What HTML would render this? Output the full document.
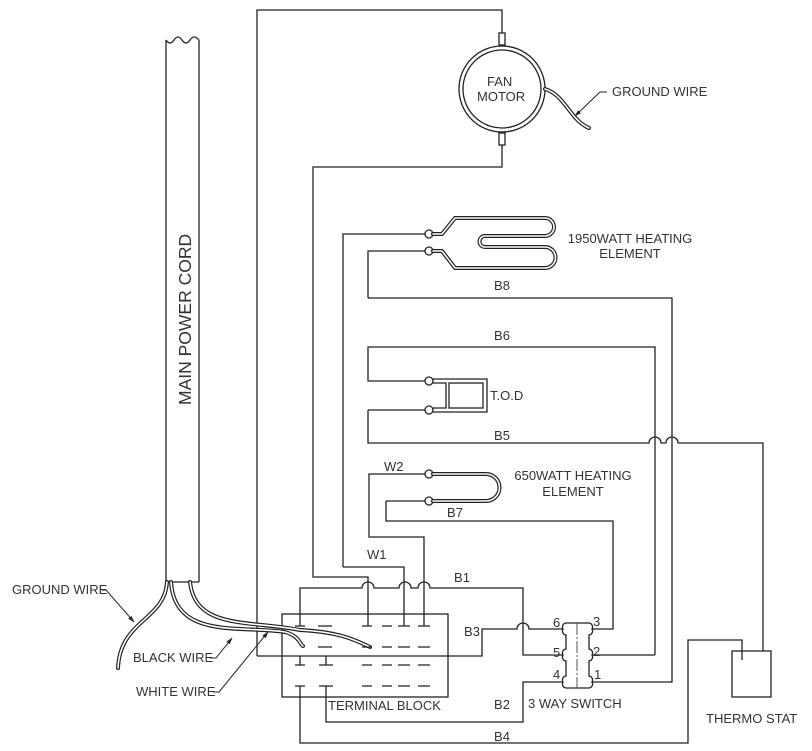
<!DOCTYPE html>
<html><head><meta charset="utf-8"><style>
html,body{margin:0;padding:0;background:#fff;}
svg{display:block;}
text{font-family:"Liberation Sans",sans-serif;font-size:13px;fill:#333;}
</style></head><body>
<svg width="812" height="751" viewBox="0 0 812 751" xmlns="http://www.w3.org/2000/svg">
<defs><marker id="ar" viewBox="0 0 10 10" refX="9" refY="5" markerWidth="7" markerHeight="7" orient="auto"><path d="M0 2 L10 5 L0 8 Z" fill="#222"/></marker></defs>
<rect width="812" height="751" fill="#fff"/>
<g fill="none" stroke="#222" stroke-width="1.3">
<path d="M166 40 V582 M199 40 V582 M166 582 H199"/>
<path d="M166 40 q4 6 8 0 q4 -6 8 0 q4 6 8 0 q4 -6 9 0"/>
<path d="M257 656 V10 H502 V33"/>
<rect x="499" y="33" width="6" height="12"/>
<rect x="499" y="133" width="6" height="12"/>
<circle cx="502" cy="89" r="43"/>
<circle cx="502" cy="89" r="39"/>
<path d="M502 145 V167 H313 V577 H368 V626"/>
<path d="M343 567 V234 H425 M368 298 V251 H425"/>
<circle cx="429" cy="234" r="4"/><circle cx="429" cy="251" r="4"/>
<path d="M368 298 H672 V682 H592"/>
<path d="M655 655 V347 H368 V381 H425 M368 410 H425 V410 M368 410 V443 H649 a6 6 0 0 1 12 0 H666 a6 6 0 0 1 12 0 H763 V651"/>
<circle cx="429" cy="381" r="4"/><circle cx="429" cy="410" r="4"/>
<path d="M433 379 H487 V412 H433 M433 383 H446 V408 H433"/>
<rect x="449" y="383" width="34" height="25"/>
<path d="M404 626 V567 H343"/>
<path d="M424 626 V537 H369 V474 H425"/>
<path d="M386 501 H425 M386 501 V521 H613 V629 H592"/>
<circle cx="429" cy="474" r="4"/><circle cx="429" cy="501" r="4"/>
<path d="M300 626 V588 H362 a6 6 0 0 1 12 0 H399 a6 6 0 0 1 12 0 H418 a6 6 0 0 1 12 0 H523 V655 H563"/>
<path d="M257 656 H482 V629 H517 a6 6 0 0 1 12 0 H563"/>
<path d="M592 655 H655"/>
<path d="M563 682 H523 V722 H326 V686"/>
<path d="M300 686 V743 H688 V640 H742 V660"/>
<rect x="732" y="651" width="39" height="46"/>
<rect x="282" y="614" width="166" height="83"/>
<path d="M300 656 V665 M326 656 V665"/>
</g>
<g fill="none" stroke-linecap="round">
<path d="M433 234 H442 L455 218 H545 A9 9 0 0 1 545 236 H485 A5.5 5.5 0 0 0 485 247 H545 A10.5 10.5 0 0 1 545 268 H455 L442 251 H433" stroke="#222" stroke-width="4"/>
<path d="M433 234 H442 L455 218 H545 A9 9 0 0 1 545 236 H485 A5.5 5.5 0 0 0 485 247 H545 A10.5 10.5 0 0 1 545 268 H455 L442 251 H433" stroke="#fff" stroke-width="1.6"/>
<path d="M433 474 H486 A13.5 13.5 0 0 1 486 501 H433" stroke="#222" stroke-width="4"/>
<path d="M433 474 H486 A13.5 13.5 0 0 1 486 501 H433" stroke="#fff" stroke-width="1.6"/>
<path d="M545 89 C565 95 570 120 589 128" stroke="#222" stroke-width="4"/>
<path d="M545 89 C565 95 570 120 589 128" stroke="#fff" stroke-width="1.6"/>
<path d="M167 582 C165 620 120 620 118 668" stroke="#222" stroke-width="4"/>
<path d="M167 582 C165 620 120 620 118 668" stroke="#fff" stroke-width="1.6"/>
<path d="M171 582 C175 640 240 625 285 632 C300 636 300 645 303 646" stroke="#222" stroke-width="4"/>
<path d="M171 582 C175 640 240 625 285 632 C300 636 300 645 303 646" stroke="#fff" stroke-width="1.6"/>
<path d="M190 582 C195 630 250 620 300 630 C340 632 355 640 370 647" stroke="#222" stroke-width="4"/>
<path d="M190 582 C195 630 250 620 300 630 C340 632 355 640 370 647" stroke="#fff" stroke-width="1.6"/>
</g>
<g stroke="#222" stroke-width="1.3">
<path d="M295 626 H305 M318 626 H332 M362 626 H372 M382 626 H392 M398 626 H410 M418 626 H430"/>
<path d="M318 647 H332 M362 647 H372 M382 647 H392 M398 647 H410 M418 647 H430"/>
<path d="M295 665 H305 M319 665 H333 M362 665 H372 M382 665 H392 M398 665 H410 M418 665 H430"/>
<path d="M295 686 H305 M319 686 H333 M362 686 H372 M382 686 H392 M398 686 H410 M418 686 H430"/>
</g>
<path d="M566 623 H589 a4 4 0 0 1 3 6 a4 4 0 0 1 -3 6 V649 a4 4 0 0 1 3 6 a4 4 0 0 1 -3 6 V676 a4 4 0 0 1 3 6 a4 4 0 0 1 -3 6 H566 a4 4 0 0 1 -3 -6 a4 4 0 0 1 3 -6 V661 a4 4 0 0 1 -3 -6 a4 4 0 0 1 3 -6 V635 a4 4 0 0 1 -3 -6 a4 4 0 0 1 3 -6 Z" fill="none" stroke="#222" stroke-width="1.3"/>
<path d="M577 623 V688" stroke="#555" stroke-width="1" stroke-dasharray="12 2 2 2"/>
<g stroke="#222" stroke-width="1" fill="none" marker-end="url(#ar)">
<path d="M607 92 H600 L575 116"/>
<path d="M102 590 H106 L134 622"/>
<path d="M210 658 H216 L232 638"/>
<path d="M213 692 H219 L268 632"/>
</g>
<text x="487" y="86">FAN</text>
<text x="477" y="101">MOTOR</text>
<text x="612" y="96">GROUND WIRE</text>
<text x="12" y="594">GROUND WIRE</text>
<text x="133" y="662">BLACK WIRE</text>
<text x="136" y="696">WHITE WIRE</text>
<text transform="translate(191,405) rotate(-90)" style="font-size:17.5px">MAIN POWER CORD</text>
<text x="630" y="243" text-anchor="middle">1950WATT HEATING</text>
<text x="630" y="258" text-anchor="middle">ELEMENT</text>
<text x="502" y="290" text-anchor="middle">B8</text>
<text x="502" y="340" text-anchor="middle">B6</text>
<text x="490" y="400">T.O.D</text>
<text x="502" y="440" text-anchor="middle">B5</text>
<text x="384" y="471">W2</text>
<text x="573" y="480" text-anchor="middle">650WATT HEATING</text>
<text x="573" y="496" text-anchor="middle">ELEMENT</text>
<text x="455" y="517" text-anchor="middle">B7</text>
<text x="367" y="559">W1</text>
<text x="462" y="582" text-anchor="middle">B1</text>
<text x="472" y="636" text-anchor="middle">B3</text>
<text x="502" y="709" text-anchor="middle">B2</text>
<text x="502" y="741" text-anchor="middle">B4</text>
<text x="328" y="710">TERMINAL BLOCK</text>
<text x="528" y="708">3 WAY SWITCH</text>
<text x="706" y="723">THERMO STAT</text>
<g style="font-size:11px">
<text x="553" y="627">6</text><text x="593" y="626">3</text>
<text x="553" y="657">5</text><text x="593" y="656">2</text>
<text x="553" y="679">4</text><text x="594" y="679">1</text>
</g>
</svg>
</body></html>
